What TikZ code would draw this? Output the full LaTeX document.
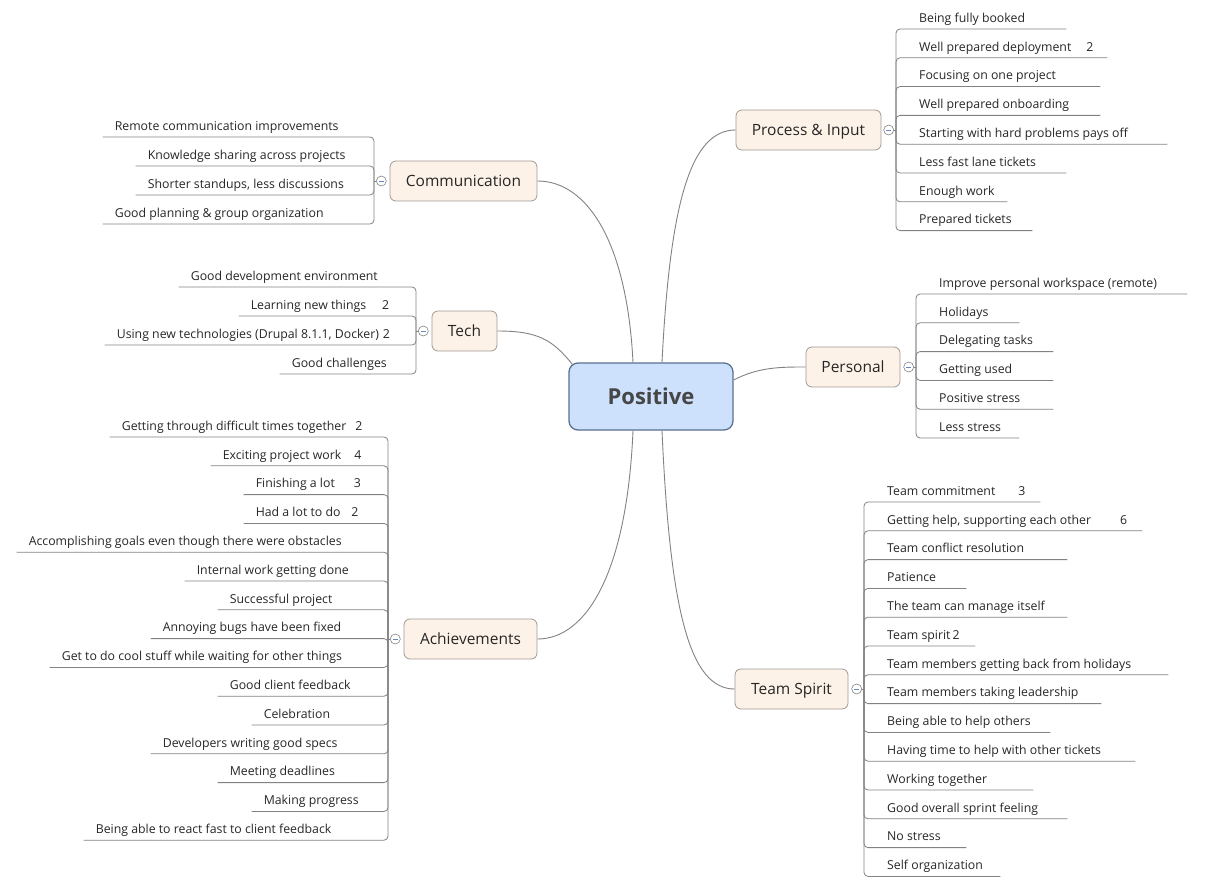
\documentclass[tikz,border=0pt]{standalone}
\usepackage{fontspec}
\setmainfont{Open Sans}
\usetikzlibrary{positioning, backgrounds}
\definecolor{rootfill}{RGB}{205,224,252}
\definecolor{rootdraw}{RGB}{90,112,145}
\definecolor{roottext}{RGB}{70,70,70}
\definecolor{topicfill}{RGB}{253,242,232}
\definecolor{topicdraw}{RGB}{160,153,147}
\definecolor{linegray}{RGB}{130,130,130}
\definecolor{minusblue}{RGB}{105,135,195}

\begin{document}
\begin{tikzpicture}[x=1pt, y=-1pt,
    root/.style={rectangle, draw=rootdraw, line width=1.3pt, rounded corners=9pt, fill=rootfill,
                 minimum width=164pt, minimum height=67pt, font=\fontsize{22}{26}\selectfont\bfseries, text=roottext},
    topic/.style={rectangle, draw=topicdraw, line width=0.8pt, rounded corners=6pt, fill=topicfill,
                  minimum height=40pt, text height=12pt, text depth=1pt,
                  font=\fontsize{15.5}{18}\selectfont, text=black!85},
    fold/.style={circle, draw=linegray, fill=white, minimum size=10pt, inner sep=0pt, line width=0.6pt,
                 path picture={\draw[minusblue, line width=0.8pt] ([xshift=-2.5pt]path picture bounding box.center)
                               -- ([xshift=2.5pt]path picture bounding box.center);}},
    leaf/.style={inner xsep=0pt, inner ysep=3.5pt, text height=9pt, text depth=3pt,
                 font=\fontsize{12.3}{14}\selectfont, text=black!85},
    rleaf/.style={leaf, anchor=south west, execute at begin node={\hbox to #1pt\bgroup\hskip23pt},
                  execute at end node={\hfil\egroup}},
    lleaf/.style={leaf, anchor=south east, execute at begin node={\hbox to #1pt\bgroup\hskip12pt},
                  execute at end node={\hfil\egroup}},
    branch/.style={draw=linegray, line width=0.9pt},
    twig/.style={draw=linegray, line width=0.8pt, rounded corners=4pt}
]
    \useasboundingbox (0,0) rectangle (1224,888);

    % central topic and main branches
    \node[root] (pos) at (651,396.5) {Positive};
    \node[topic, minimum width=145pt] (proc) at (808.5,130) {Process \& Input};
    \node[topic, minimum width=147pt] (comm) at (463.5,181) {Communication};
    \node[topic, minimum width=65pt] (tech) at (464.5,331) {Tech};
    \node[topic, minimum width=94pt] (pers) at (853,367) {Personal};
    \node[topic, minimum width=133pt] (ach) at (470.5,639) {Achievements};
    \node[topic, minimum width=113pt] (team) at (791.5,689) {Team Spirit};

    % fold markers
    \node[fold, right=2pt of proc] (pc) {};
    \node[fold, left=3pt of comm] (cc) {};
    \node[fold, left=3pt of tech] (tc) {};
    \node[fold, right=3pt of pers] (rc) {};
    \node[fold, left=3pt of ach] (ac) {};
    \node[fold, right=3pt of team] (sc) {};

    % Process & Input
    \node[rleaf=170] (p1) at (896,29) {Being fully booked};
    \node[rleaf=211] (p2) at (896,57.8) {Well prepared deployment\hspace{15pt}2};
    \node[rleaf=204] (p3) at (896,86.6) {Focusing on one project};
    \node[rleaf=204] (p4) at (896,115.4) {Well prepared onboarding};
    \node[rleaf=271] (p5) at (896,144.2) {Starting with hard problems pays off};
    \node[rleaf=170] (p6) at (896,173) {Less fast lane tickets};
    \node[rleaf=111] (p7) at (896,201.8) {Enough work};
    \node[rleaf=136] (p8) at (896,230.6) {Prepared tickets};

    % Communication
    \node[lleaf=271] (c1) at (374,137) {Remote communication improvements};
    \node[lleaf=238] (c2) at (374,166) {Knowledge sharing across projects};
    \node[lleaf=238] (c3) at (374,195) {Shorter standups, less discussions};
    \node[lleaf=271] (c4) at (374,224) {Good planning \& group organization};

    % Tech
    \node[lleaf=237] (t1) at (416,287) {Good development environment};
    \node[lleaf=177] (t2) at (416,316) {Learning new things\hspace{16pt}2};
    \node[lleaf=311] (t3) at (416,345) {Using new technologies (Drupal 8.1.1, Docker)\hspace{4pt}2};
    \node[lleaf=136] (t4) at (416,374) {Good challenges};

    % Personal
    \node[rleaf=271] (r1) at (916,294) {Improve personal workspace (remote)};
    \node[rleaf=103] (r2) at (916,322.8) {Holidays};
    \node[rleaf=137] (r3) at (916,351.6) {Delegating tasks};
    \node[rleaf=137] (r4) at (916,380.4) {Getting used};
    \node[rleaf=137] (r5) at (916,409.2) {Positive stress};
    \node[rleaf=103] (r6) at (916,438) {Less stress};

    % Achievements
    \node[lleaf=278] (a1) at (388,437) {Getting through difficult times together\hspace{9pt}2};
    \node[lleaf=177] (a2) at (388,465.8) {Exciting project work\hspace{13pt}4};
    \node[lleaf=144] (a3) at (388,494.6) {Finishing a lot\hspace{19pt}3};
    \node[lleaf=144] (a4) at (388,523.4) {Had a lot to do\hspace{11pt}2};
    \node[lleaf=371] (a5) at (388,552.2) {Accomplishing goals even though there were obstacles};
    \node[lleaf=203] (a6) at (388,581) {Internal work getting done};
    \node[lleaf=170] (a7) at (388,609.8) {Successful project};
    \node[lleaf=237] (a8) at (388,638.6) {Annoying bugs have been fixed};
    \node[lleaf=338] (a9) at (388,667.4) {Get to do cool stuff while waiting for other things};
    \node[lleaf=170] (a10) at (388,696.2) {Good client feedback};
    \node[lleaf=136] (a11) at (388,725) {Celebration};
    \node[lleaf=237] (a12) at (388,753.8) {Developers writing good specs};
    \node[lleaf=170] (a13) at (388,782.6) {Meeting deadlines};
    \node[lleaf=136] (a14) at (388,811.4) {Making progress};
    \node[lleaf=304] (a15) at (388,840.2) {Being able to react fast to client feedback};

    % Team Spirit
    \node[rleaf=176] (s1) at (864,502) {Team commitment\hspace{23pt}3};
    \node[rleaf=278] (s2) at (864,530.8) {Getting help, supporting each other\hspace{29pt}6};
    \node[rleaf=203] (s3) at (864,559.6) {Team conflict resolution};
    \node[rleaf=102] (s4) at (864,588.4) {Patience};
    \node[rleaf=203] (s5) at (864,617.2) {The team can manage itself};
    \node[rleaf=111] (s6) at (864,646) {Team spirit\,2};
    \node[rleaf=304] (s7) at (864,674.8) {Team members getting back from holidays};
    \node[rleaf=237] (s8) at (864,703.6) {Team members taking leadership};
    \node[rleaf=186] (s9) at (864,732.4) {Being able to help others};
    \node[rleaf=271] (s10) at (864,761.2) {Having time to help with other tickets};
    \node[rleaf=169] (s11) at (864,790) {Working together};
    \node[rleaf=203] (s12) at (864,818.8) {Good overall sprint feeling};
    \node[rleaf=102] (s13) at (864,847.6) {No stress};
    \node[rleaf=136] (s14) at (864,876.4) {Self organization};

    \begin{scope}[on background layer]
    % main branches
    \draw[branch] ([xshift=11pt]pos.north) .. controls +(8,-160) and +(-45,0) .. (proc.west);
    \draw[branch] ([xshift=-18pt]pos.north) .. controls +(-6,-120) and +(50,0) .. (comm.east);
    \draw[branch] ([xshift=4pt,yshift=-2pt]pos.north west) .. controls +(-20,-25) and +(40,0) .. (tech.east);
    \draw[branch] ([yshift=16.5pt]pos.east) .. controls +(25,-13) and +(-25,0) .. (pers.west);
    \draw[branch] ([xshift=-18pt]pos.south) .. controls +(-6,140) and +(50,0) .. (ach.east);
    \draw[branch] ([xshift=11pt]pos.south) .. controls +(8,180) and +(-45,0) .. (team.west);

    % leaf connectors
    \draw[twig] (pc) -- (pc -| p1.south west);
    \foreach \i in {1,...,8} \draw[twig] (pc -| p\i.south west) |- (p\i.south east);
    \draw[twig] (cc) -- (cc -| c1.south east);
    \foreach \i in {1,...,4} \draw[twig] (cc -| c\i.south east) |- (c\i.south west);
    \draw[twig] (tc) -- (tc -| t1.south east);
    \foreach \i in {1,...,4} \draw[twig] (tc -| t\i.south east) |- (t\i.south west);
    \draw[twig] (rc) -- (rc -| r1.south west);
    \foreach \i in {1,...,6} \draw[twig] (rc -| r\i.south west) |- (r\i.south east);
    \draw[twig] (ac) -- (ac -| a1.south east);
    \foreach \i in {1,...,15} \draw[twig] (ac -| a\i.south east) |- (a\i.south west);
    \draw[twig] (sc) -- (sc -| s1.south west);
    \foreach \i in {1,...,14} \draw[twig] (sc -| s\i.south west) |- (s\i.south east);
    \end{scope}
\end{tikzpicture}
\end{document}
